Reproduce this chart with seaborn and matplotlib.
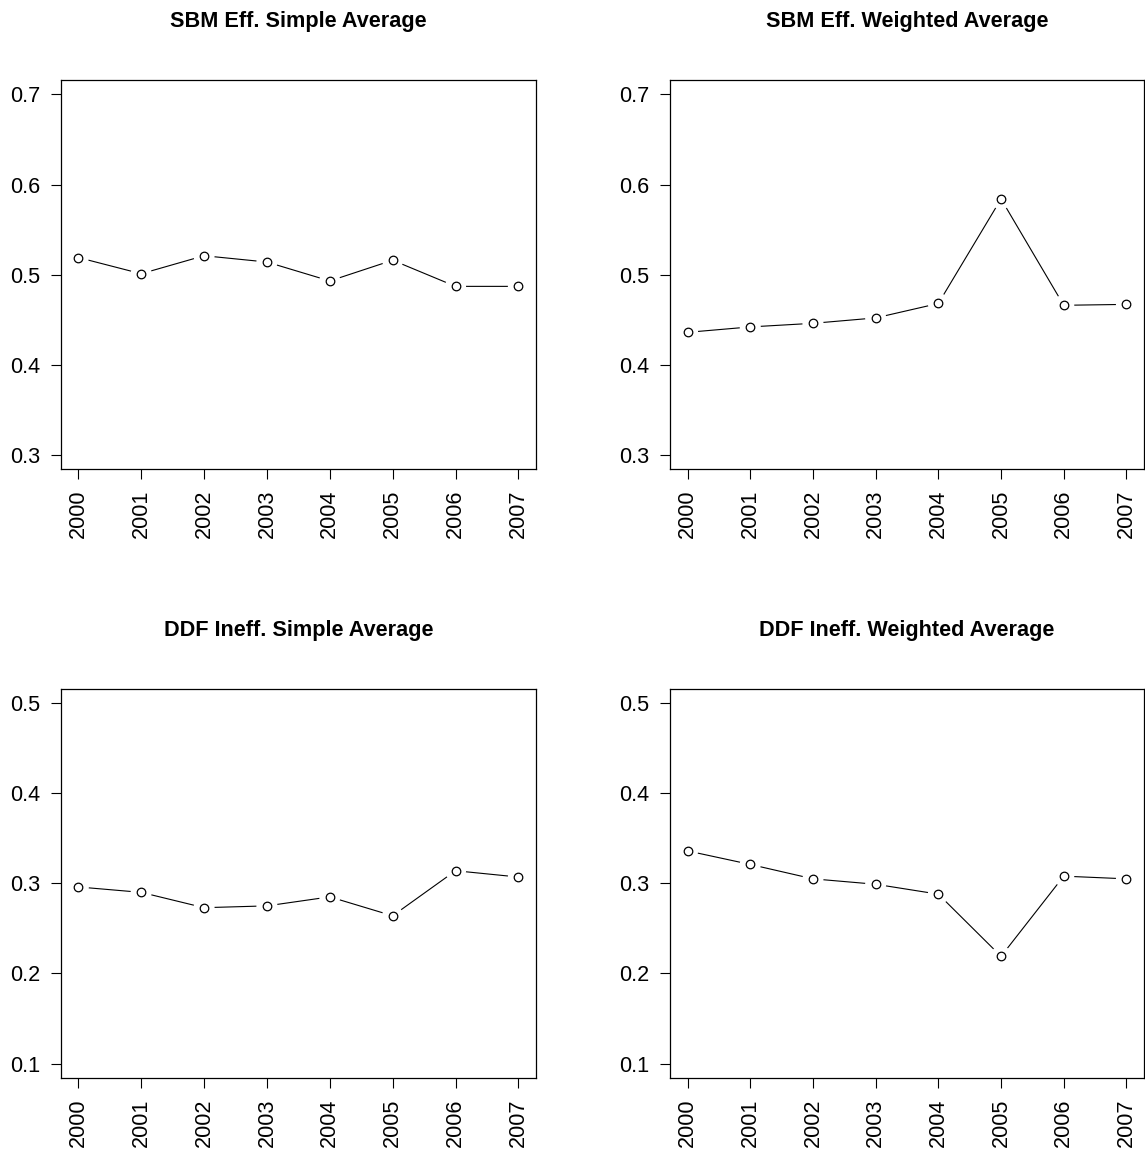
import matplotlib
matplotlib.use("Agg")
import matplotlib.pyplot as plt
import seaborn as sns
import pandas as pd

years = [2000, 2001, 2002, 2003, 2004, 2005, 2006, 2007]
sbm_simple = [0.519, 0.501, 0.521, 0.514, 0.493, 0.516, 0.487, 0.487]
sbm_weighted = [0.436, 0.442, 0.446, 0.452, 0.468, 0.584, 0.466, 0.467]
ddf_simple = [0.296, 0.290, 0.273, 0.275, 0.285, 0.264, 0.314, 0.307]
ddf_weighted = [0.336, 0.321, 0.305, 0.299, 0.288, 0.219, 0.308, 0.305]

titles = ["SBM Eff. Simple Average", "SBM Eff. Weighted Average",
          "DDF Ineff. Simple Average", "DDF Ineff. Weighted Average"]
series = [sbm_simple, sbm_weighted, ddf_simple, ddf_weighted]
ylims = [(0.3, 0.7), (0.3, 0.7), (0.1, 0.5), (0.1, 0.5)]
yticks_list = [[0.3, 0.4, 0.5, 0.6, 0.7], [0.3, 0.4, 0.5, 0.6, 0.7],
               [0.1, 0.2, 0.3, 0.4, 0.5], [0.1, 0.2, 0.3, 0.4, 0.5]]

sns.set_theme(style="white")
plt.rcParams['font.family'] = ['Liberation Sans', 'DejaVu Sans']

W, H = 1145, 1153
fig = plt.figure(figsize=(W / 100, H / 100), dpi=100)

# axes boxes in pixels: (left, top, right, bottom)
boxes = [(60.7, 80, 536, 469.3), (670, 80, 1144, 469.3),
         (60.7, 688.7, 536, 1078), (670, 688.7, 1144, 1078)]

for box, title, vals, yl, yt in zip(boxes, titles, series, ylims, yticks_list):
    l, t, r, b = box
    ax = fig.add_axes([l / W, 1 - b / H, (r - l) / W, (b - t) / H])
    df = pd.DataFrame({"year": years, "value": vals})
    sns.lineplot(data=df, x="year", y="value", ax=ax, color="black",
                 linewidth=0.8, zorder=2)
    sns.scatterplot(data=df, x="year", y="value", ax=ax, s=230,
                    color="white", edgecolor="none", linewidth=0, zorder=3)
    sns.scatterplot(data=df, x="year", y="value", ax=ax, s=38,
                    facecolor="white", edgecolor="black", linewidth=0.9,
                    zorder=4)
    span = yl[1] - yl[0]
    ax.set_ylim(yl[0] - 0.04 * span, yl[1] + 0.04 * span)
    ax.set_xlim(years[0] - 0.04 * 7, years[-1] + 0.04 * 7)
    ax.set_xticks(years)
    ax.set_xticklabels([str(y) for y in years], rotation=90, fontsize=15.6)
    ax.set_yticks(yt)
    ax.set_yticklabels([f"{v:.1f}" for v in yt], fontsize=15.6)
    ax.set_xlabel("")
    ax.set_ylabel("")
    ax.tick_params(axis="both", which="both", direction="out", length=7.2,
                   width=0.8, color="black", pad=7.5, left=True, bottom=True,
                   labelcolor="black")
    for sp in ax.spines.values():
        sp.set_color("black")
        sp.set_linewidth(0.9)
        sp.set_visible(True)
    ax.set_facecolor("white")
    cx = (l + r) / 2 / W
    fig.text(cx, 1 - (t - 53) / H, title, ha="center", va="baseline",
             fontsize=15.6, fontweight="bold", color="black")

fig.savefig("out.png", dpi=100, facecolor="white")
